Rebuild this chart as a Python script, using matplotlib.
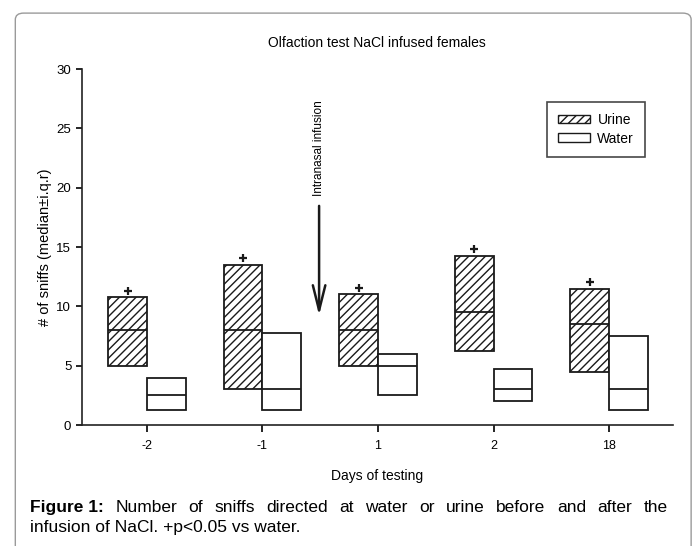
import matplotlib
matplotlib.use("Agg")
import matplotlib.pyplot as plt
from matplotlib.patches import Patch, FancyBboxPatch
import numpy as np

plt.rcParams['font.family'] = ['Liberation Sans', 'DejaVu Sans']
plt.rcParams['hatch.linewidth'] = 1.0

days = ["-2", "-1", "1", "2", "18"]
urine_q1 = [5.0, 3.0, 5.0, 6.25, 4.5]
urine_med = [8.0, 8.0, 8.0, 9.5, 8.5]
urine_q3 = [10.75, 13.5, 11.0, 14.25, 11.5]
water_q1 = [1.25, 1.25, 2.5, 2.0, 1.25]
water_med = [2.5, 3.0, 5.0, 3.0, 3.0]
water_q3 = [4.0, 7.75, 6.0, 4.75, 7.5]

caption_1 = "Number of sniffs directed at water or urine before and after the"
caption_2 = "infusion of NaCl. +p<0.05 vs water."

x = np.arange(len(days))
w = 0.335
hatch = '////'

fig = plt.figure(figsize=(6.96, 5.46), dpi=100)
ax = fig.add_axes([0.1174, 0.2216, 0.8496, 0.652])

# outer rounded frame
frame = FancyBboxPatch((0.022, -0.05), 0.971, 1.026, boxstyle="round,pad=0,rounding_size=0.012",
                       transform=fig.transFigure, fill=False, edgecolor="#9a9a9a", lw=1.0)
fig.patches.append(frame)

uq1, uq3 = np.array(urine_q1), np.array(urine_q3)
wq1, wq3 = np.array(water_q1), np.array(water_q3)

ax.bar(x, uq3 - uq1, bottom=uq1, width=-w, align='edge', facecolor='white',
       edgecolor='#1a1a1a', hatch=hatch, lw=1.3)
ax.bar(x, wq3 - wq1, bottom=wq1, width=w, align='edge', facecolor='white',
       edgecolor='#1a1a1a', lw=1.3)
ax.hlines(urine_med, x - w, x, color='#1a1a1a', lw=1.3)
ax.hlines(water_med, x, x + w, color='#1a1a1a', lw=1.3)

# significance marks
ax.plot(x - w / 2, uq3 + 0.55, ls='none', marker='+', ms=6, mew=1.6, color='#1a1a1a')

# infusion arrow
ax.annotate("", xy=(1.49, 9.0), xytext=(1.49, 18.7),
            arrowprops=dict(arrowstyle='->,head_length=1.8,head_width=0.45', lw=1.8, color='#1a1a1a'))
ax.text(1.49, 23.3, "Intranasal infusion", rotation=90, ha='center', va='center', fontsize=8.5)

ax.set_xlim(-0.565, 4.554)
ax.set_ylim(0, 30)
ax.set_xticks(x)
ax.set_xticklabels(days, fontsize=9)
ax.set_yticks(range(0, 31, 5))
ax.tick_params(axis='y', labelsize=9.5, direction='out', length=4, width=1.2)
ax.tick_params(axis='x', direction='out', length=5, width=1.2, pad=6)
ax.spines['top'].set_visible(False)
ax.spines['right'].set_visible(False)
for s in ('left', 'bottom'):
    ax.spines[s].set_linewidth(1.2)
    ax.spines[s].set_color('#222222')

ax.set_title("Olfaction test NaCl infused females", fontsize=10, pad=16)
ax.set_ylabel("# of sniffs (median\u00b1i.q.r)", fontsize=10.5, labelpad=3)
ax.set_xlabel("Days of testing", fontsize=10, labelpad=12)

handles = [Patch(facecolor='white', edgecolor='#1a1a1a', hatch=hatch, label='Urine'),
           Patch(facecolor='white', edgecolor='#1a1a1a', label='Water')]
leg = ax.legend(handles=handles, loc='upper right', bbox_to_anchor=(0.953, 0.908),
                borderaxespad=0, fancybox=False, edgecolor='#1a1a1a', fontsize=10,
                handlelength=2.3, handleheight=0.6, handletextpad=0.5,
                borderpad=0.8, labelspacing=0.35)
leg.get_frame().set_linewidth(1.2)

# caption, first line justified between x0 and x1 (pixels)
fs = 12.5
x0, x1 = 30, 668
y1, y2 = 546 - 512, 546 - 532
renderer = fig.canvas.get_renderer()
words = caption_1.split()
head = fig.text(x0 / 696, y1 / 546, "Figure 1:", fontsize=fs, fontweight='bold', va='baseline')
arts = [head] + [fig.text(0, y1 / 546, wd, fontsize=fs, va='baseline') for wd in words]
widths = [a.get_window_extent(renderer).width for a in arts]
gap = (x1 - x0 - sum(widths)) / (len(arts) - 1)
pos = x0
for a, wd in zip(arts, widths):
    a.set_x(pos / 696)
    pos += wd + gap
fig.text(x0 / 696, y2 / 546, caption_2, fontsize=fs, va='baseline')

fig.savefig("out.png", dpi=100)
